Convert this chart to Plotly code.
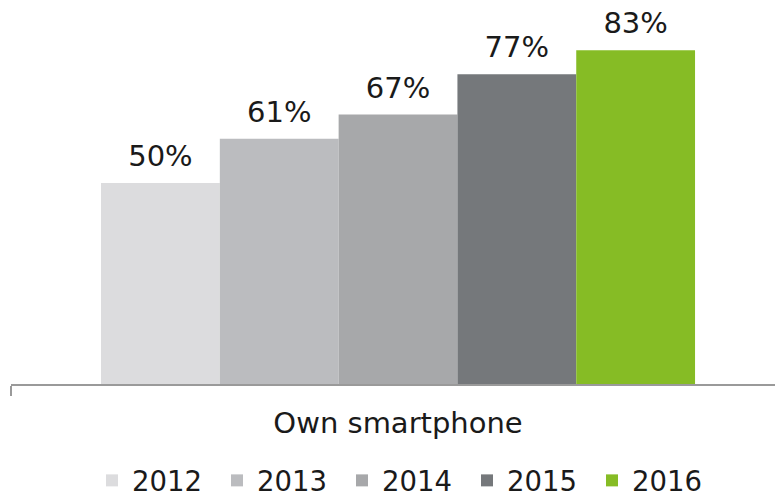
import plotly.graph_objects as go

categories = ["Own smartphone"]
years = ["2012", "2013", "2014", "2015", "2016"]
values = [50, 61, 67, 77, 83]
colors = ["#DCDCDE", "#BBBCBF", "#A7A8AA", "#75787B", "#86BC25"]

FONT = "DejaVu Sans"
GAP = 0.2326

fig = go.Figure()
for yr, v, c in zip(years, values, colors):
    fig.add_trace(go.Bar(
        x=categories, y=[v], name=yr, marker=dict(color=c, line=dict(width=0)),
        hoverinfo="skip",
    ))
for yr, v in zip(years, values):
    fig.add_trace(go.Scatter(
        x=categories, y=[v], mode="markers+text", text=[f"{v}%"], textposition="top center",
        marker=dict(size=14, opacity=0),
        textfont=dict(family=FONT, size=29, color="#1a1a1a"),
        showlegend=False, cliponaxis=False, hoverinfo="skip",
    ))

fig.update_layout(
    width=775, height=497,
    barmode="group", bargap=GAP, bargroupgap=0,
    scattermode="group", scattergap=GAP,
    margin=dict(l=11, r=0, t=20, b=113, autoexpand=False),
    plot_bgcolor="white", paper_bgcolor="white",
    font=dict(family=FONT, color="#1a1a1a"),
    showlegend=True,
    legend=dict(orientation="h", xref="container", x=92 / 775, xanchor="left",
                yref="container", y=(497 - 480.5) / 497, yanchor="middle",
                entrywidth=80, entrywidthmode="pixels",
                font=dict(family=FONT, size=27.5, color="#1a1a1a"),
                itemclick=False, itemdoubleclick=False, traceorder="normal"),
    xaxis=dict(range=[-0.5, 0.487], showline=True, linecolor="#9a9a9a", linewidth=2,
               ticks="outside", tickson="boundaries", ticklen=10, tickwidth=2,
               tickcolor="#9a9a9a", showgrid=False, zeroline=False,
               tickfont=dict(family=FONT, size=29, color="#1a1a1a"),
               ticklabelstandoff=12),
    yaxis=dict(range=[0, 90.5], visible=False, showgrid=False, zeroline=False),
    hovermode=False,
)

fig.write_html("out.html", config={"displayModeBar": False},
               post_script="document.body.style.margin='0';")
